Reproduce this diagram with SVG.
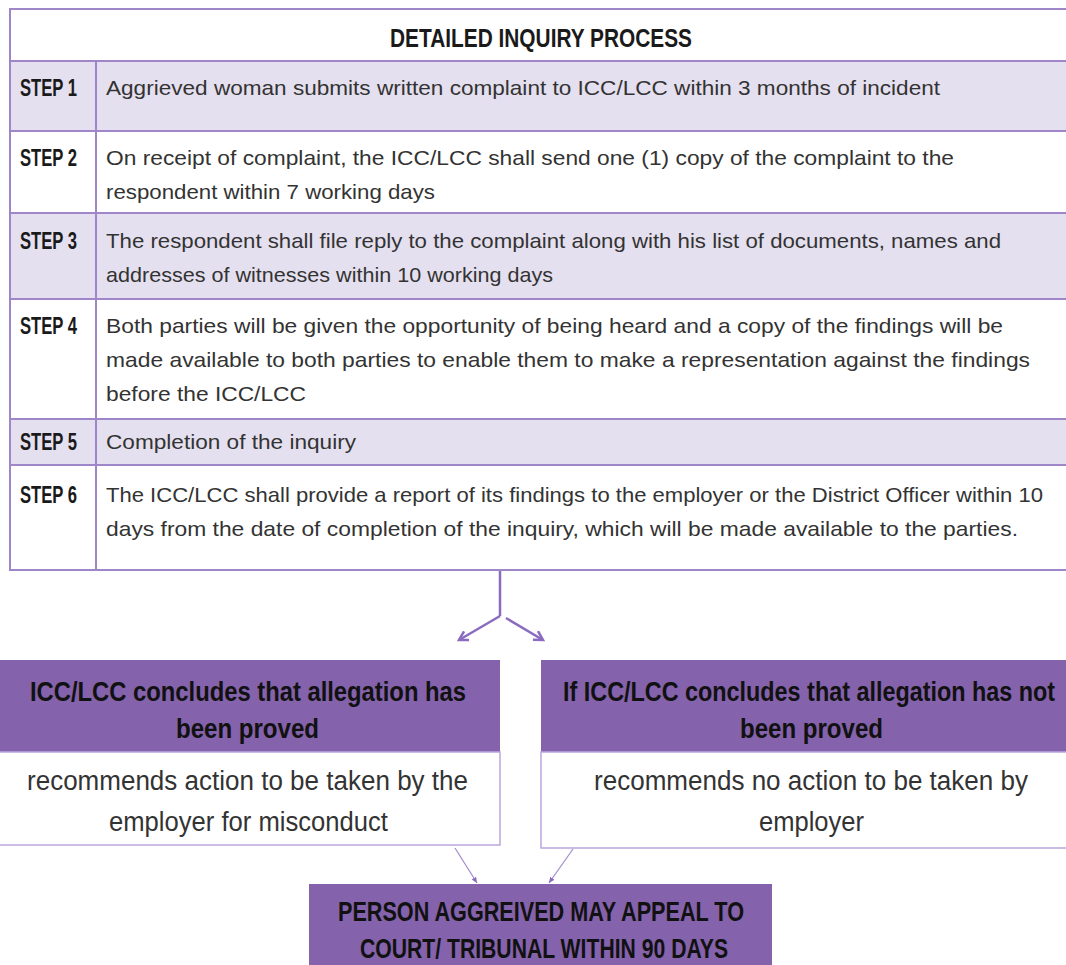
<svg xmlns="http://www.w3.org/2000/svg" width="1066" height="965" viewBox="0 0 1066 965">
<style>
.bg{fill:#ffffff}
.shade{fill:#e5e0ef}
.grid{stroke:#9e86c8;stroke-width:2;fill:none}
.step{font-family:"Liberation Sans",Arial,sans-serif;font-weight:bold;font-size:23px;fill:#1a1a1a}
.body{font-family:"Liberation Sans",Arial,sans-serif;font-size:21px;fill:#333333}
.title{font-family:"Liberation Sans",Arial,sans-serif;font-weight:bold;font-size:26px;fill:#1a1a1a}
.phead{fill:#8462ac}
.pbody{fill:#ffffff;stroke:#b9a6dc;stroke-width:1.5}
.htxt{font-family:"Liberation Sans",Arial,sans-serif;font-weight:bold;font-size:28px;fill:#111111}
.btxt{font-family:"Liberation Sans",Arial,sans-serif;font-size:27px;fill:#333333}
.conn{stroke:#8a6bbf;stroke-width:2.5;fill:none}
.thin{stroke:#a58fd0;stroke-width:1.3;fill:none}
</style>
<defs>
<marker id="open" viewBox="0 0 10 10" refX="8" refY="5" markerWidth="5" markerHeight="5" orient="auto" markerUnits="strokeWidth">
<polyline points="1,1 8,5 1,9" fill="none" stroke="#8a6bbf" stroke-width="2"/>
</marker>
<marker id="small" viewBox="0 0 10 10" refX="9" refY="5" markerWidth="5" markerHeight="5" orient="auto" markerUnits="strokeWidth">
<path d="M0,1 L9,5 L0,9 Z" fill="#8a6bbf"/>
</marker>
</defs>
<rect class="bg" x="0" y="0" width="1066" height="965"/>

<g id="table">
<rect class="shade" x="10" y="61" width="1060" height="70"/>
<rect class="shade" x="10" y="213" width="1060" height="86"/>
<rect class="shade" x="10" y="419" width="1060" height="46"/>
<path class="grid" d="M1070,9 H10 V570 H1070 M10,61 H1070 M10,131 H1070 M10,213 H1070 M10,299 H1070 M10,419 H1070 M10,465 H1070 M96,61 V570"/>
<text class="title" x="390" y="47" textLength="302" lengthAdjust="spacingAndGlyphs">DETAILED INQUIRY PROCESS</text>
</g>

<g id="step1">
<text class="step" x="20" y="96" textLength="57" lengthAdjust="spacingAndGlyphs">STEP 1</text>
<text class="body" x="106" y="95" textLength="834" lengthAdjust="spacingAndGlyphs">Aggrieved woman submits written complaint to ICC/LCC within 3 months of incident</text>
</g>
<g id="step2">
<text class="step" x="20" y="166" textLength="57" lengthAdjust="spacingAndGlyphs">STEP 2</text>
<text class="body" x="106" y="165" textLength="848" lengthAdjust="spacingAndGlyphs">On receipt of complaint, the ICC/LCC shall send one (1) copy of the complaint to the</text>
<text class="body" x="106" y="199" textLength="329" lengthAdjust="spacingAndGlyphs">respondent within 7 working days</text>
</g>
<g id="step3">
<text class="step" x="20" y="249" textLength="57" lengthAdjust="spacingAndGlyphs">STEP 3</text>
<text class="body" x="106" y="248" textLength="895" lengthAdjust="spacingAndGlyphs">The respondent shall file reply to the complaint along with his list of documents, names and</text>
<text class="body" x="106" y="282" textLength="447" lengthAdjust="spacingAndGlyphs">addresses of witnesses within 10 working days</text>
</g>
<g id="step4">
<text class="step" x="20" y="334" textLength="57" lengthAdjust="spacingAndGlyphs">STEP 4</text>
<text class="body" x="106" y="333" textLength="897" lengthAdjust="spacingAndGlyphs">Both parties will be given the opportunity of being heard and a copy of the findings will be</text>
<text class="body" x="106" y="367" textLength="924" lengthAdjust="spacingAndGlyphs">made available to both parties to enable them to make a representation against the findings</text>
<text class="body" x="106" y="401" textLength="200" lengthAdjust="spacingAndGlyphs">before the ICC/LCC</text>
</g>
<g id="step5">
<text class="step" x="20" y="450" textLength="57" lengthAdjust="spacingAndGlyphs">STEP 5</text>
<text class="body" x="106" y="449" textLength="250" lengthAdjust="spacingAndGlyphs">Completion of the inquiry</text>
</g>
<g id="step6">
<text class="step" x="20" y="503" textLength="57" lengthAdjust="spacingAndGlyphs">STEP 6</text>
<text class="body" x="106" y="502" textLength="937" lengthAdjust="spacingAndGlyphs">The ICC/LCC shall provide a report of its findings to the employer or the District Officer within 10</text>
<text class="body" x="106" y="536" textLength="912" lengthAdjust="spacingAndGlyphs">days from the date of completion of the inquiry, which will be made available to the parties.</text>
</g>

<g id="connectors">
<path class="conn" d="M500,571 V616"/>
<path class="conn" d="M500,616 L459,640" marker-end="url(#open)"/>
<path class="conn" d="M506,618 L543,640" marker-end="url(#open)"/>
<path class="thin" d="M455,848 L477,883" marker-end="url(#small)"/>
<path class="thin" d="M573,849 L549,883" marker-end="url(#small)"/>
</g>

<g id="proved">
<rect class="phead" x="0" y="660" width="500" height="92"/>
<rect class="pbody" x="-2" y="752" width="502" height="93"/>
<text class="htxt" x="30" y="701" textLength="436" lengthAdjust="spacingAndGlyphs">ICC/LCC concludes that allegation has</text>
<text class="htxt" x="176" y="738" textLength="143" lengthAdjust="spacingAndGlyphs">been proved</text>
<text class="btxt" x="27" y="790" textLength="441" lengthAdjust="spacingAndGlyphs">recommends action to be taken by the</text>
<text class="btxt" x="109" y="831" textLength="279" lengthAdjust="spacingAndGlyphs">employer for misconduct</text>
</g>

<g id="notproved">
<rect class="phead" x="541" y="660" width="527" height="92"/>
<rect class="pbody" x="541" y="752" width="530" height="96"/>
<text class="htxt" transform="translate(563,701) scale(0.835,1)" x="0" y="0">If ICC/LCC concludes that allegation has not</text>
<text class="htxt" x="740" y="738" textLength="143" lengthAdjust="spacingAndGlyphs">been proved</text>
<text class="btxt" x="594" y="790" textLength="434" lengthAdjust="spacingAndGlyphs">recommends no action to be taken by</text>
<text class="btxt" x="759" y="831" textLength="105" lengthAdjust="spacingAndGlyphs">employer</text>
</g>

<g id="appeal">
<rect class="phead" x="309" y="884" width="463" height="85"/>
<text class="htxt" x="338" y="921" textLength="406" lengthAdjust="spacingAndGlyphs">PERSON AGGREIVED MAY APPEAL TO</text>
<text class="htxt" x="360" y="958" textLength="368" lengthAdjust="spacingAndGlyphs">COURT/ TRIBUNAL WITHIN 90 DAYS</text>
</g>
</svg>
